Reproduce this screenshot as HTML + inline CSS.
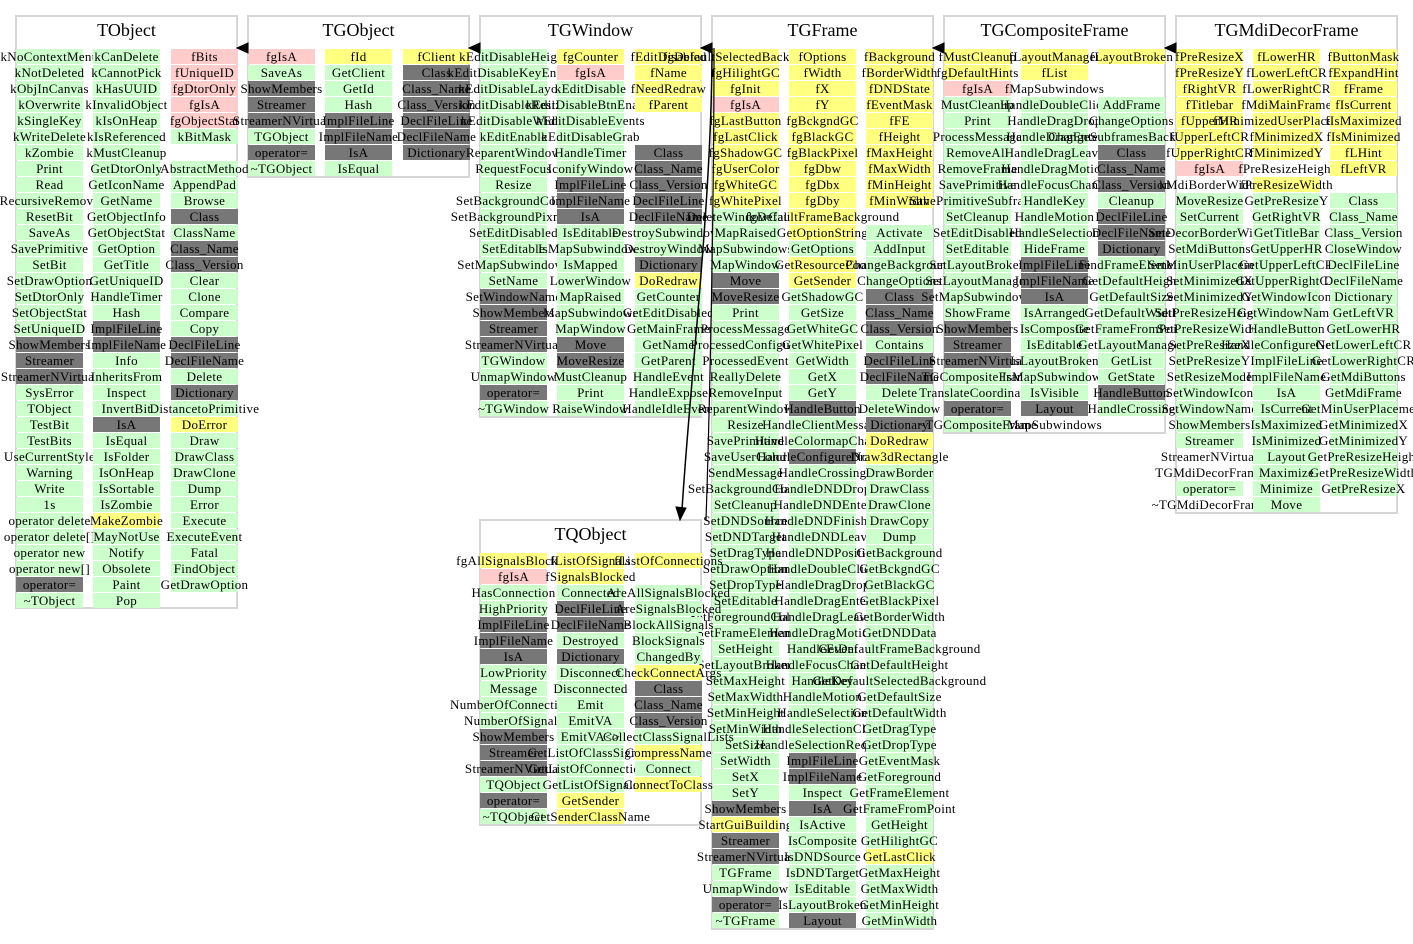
<!DOCTYPE html>
<html><head><meta charset="utf-8"><style>
body{margin:0;width:1413px;height:944px;background:#fff;position:relative;overflow:hidden;font-family:"Liberation Serif",serif;}
.box{position:absolute;border:2px solid #d6d6d6;box-sizing:border-box;width:223px;}
.t{position:absolute;width:223px;text-align:center;font-size:18px;line-height:20px;}
.col{position:absolute;width:67px;}
.col b{display:flex;justify-content:center;height:15px;margin-bottom:1px;font-weight:normal;line-height:15px;white-space:nowrap;font-size:13px;letter-spacing:0.3px;background:#ccffcc;}
.col b.p{background:#ffcccc}.col b.y{background:#ffff80}.col b.d{background:#777}.col b.w{background:transparent}
svg{position:absolute;left:0;top:0}
</style></head><body>
<div class="box" style="left:15px;top:15px;height:594px"></div><div class="t" style="left:15px;top:20px">TObject</div>
<div class="box" style="left:247px;top:15px;height:163px"></div><div class="t" style="left:247px;top:20px">TGObject</div>
<div class="box" style="left:479px;top:15px;height:403px"></div><div class="t" style="left:479px;top:20px">TGWindow</div>
<div class="box" style="left:711px;top:15px;height:915px"></div><div class="t" style="left:711px;top:20px">TGFrame</div>
<div class="box" style="left:943px;top:15px;height:419px"></div><div class="t" style="left:943px;top:20px">TGCompositeFrame</div>
<div class="box" style="left:1175px;top:15px;height:499px"></div><div class="t" style="left:1175px;top:20px">TGMdiDecorFrame</div>
<div class="box" style="left:479px;top:519px;height:307px"></div><div class="t" style="left:479px;top:524px">TQObject</div>

<div class="col" style="left:16px;top:49px"><b>kNoContextMenu</b><b>kNotDeleted</b><b>kObjInCanvas</b><b>kOverwrite</b><b>kSingleKey</b><b>kWriteDelete</b><b>kZombie</b><b>Print</b><b>Read</b><b>RecursiveRemove</b><b>ResetBit</b><b>SaveAs</b><b>SavePrimitive</b><b>SetBit</b><b>SetDrawOption</b><b>SetDtorOnly</b><b>SetObjectStat</b><b>SetUniqueID</b><b class="d">ShowMembers</b><b class="d">Streamer</b><b class="d">StreamerNVirtual</b><b>SysError</b><b>TObject</b><b>TestBit</b><b>TestBits</b><b>UseCurrentStyle</b><b>Warning</b><b>Write</b><b>1s</b><b>operator delete</b><b>operator delete[]</b><b>operator new</b><b>operator new[]</b><b class="d">operator=</b><b>~TObject</b></div>
<div class="col" style="left:93px;top:49px"><b>kCanDelete</b><b>kCannotPick</b><b>kHasUUID</b><b>kInvalidObject</b><b>kIsOnHeap</b><b>kIsReferenced</b><b>kMustCleanup</b><b>GetDtorOnly</b><b>GetIconName</b><b>GetName</b><b>GetObjectInfo</b><b>GetObjectStat</b><b>GetOption</b><b>GetTitle</b><b>GetUniqueID</b><b>HandleTimer</b><b>Hash</b><b class="d">ImplFileLine</b><b class="d">ImplFileName</b><b>Info</b><b>InheritsFrom</b><b>Inspect</b><b>InvertBit</b><b class="d">IsA</b><b>IsEqual</b><b>IsFolder</b><b>IsOnHeap</b><b>IsSortable</b><b>IsZombie</b><b class="y">MakeZombie</b><b>MayNotUse</b><b>Notify</b><b>Obsolete</b><b>Paint</b><b>Pop</b></div>
<div class="col" style="left:171px;top:49px"><b class="p">fBits</b><b class="p">fUniqueID</b><b class="p">fgDtorOnly</b><b class="p">fgIsA</b><b class="p">fgObjectStat</b><b>kBitMask</b><b class="w"></b><b>AbstractMethod</b><b>AppendPad</b><b>Browse</b><b class="d">Class</b><b>ClassName</b><b class="d">Class_Name</b><b class="d">Class_Version</b><b>Clear</b><b>Clone</b><b>Compare</b><b>Copy</b><b class="d">DeclFileLine</b><b class="d">DeclFileName</b><b>Delete</b><b class="d">Dictionary</b><b>DistancetoPrimitive</b><b class="y">DoError</b><b>Draw</b><b>DrawClass</b><b>DrawClone</b><b>Dump</b><b>Error</b><b>Execute</b><b>ExecuteEvent</b><b>Fatal</b><b>FindObject</b><b>GetDrawOption</b></div>

<div class="col" style="left:248px;top:49px"><b class="p">fgIsA</b><b>SaveAs</b><b class="d">ShowMembers</b><b class="d">Streamer</b><b class="d">StreamerNVirtual</b><b>TGObject</b><b class="d">operator=</b><b>~TGObject</b></div>
<div class="col" style="left:325px;top:49px"><b class="y">fId</b><b>GetClient</b><b>GetId</b><b>Hash</b><b class="d">ImplFileLine</b><b class="d">ImplFileName</b><b class="d">IsA</b><b>IsEqual</b></div>
<div class="col" style="left:403px;top:49px"><b class="y">fClient</b><b class="d">Class</b><b class="d">Class_Name</b><b class="d">Class_Version</b><b class="d">DeclFileLine</b><b class="d">DeclFileName</b><b class="d">Dictionary</b></div>

<div class="col" style="left:480px;top:49px"><b>kEditDisableHeight</b><b>kEditDisableKeyEnable</b><b>kEditDisableLayout</b><b>kEditDisableResize</b><b>kEditDisableWidth</b><b>kEditEnable</b><b>ReparentWindow</b><b>RequestFocus</b><b>Resize</b><b>SetBackgroundColor</b><b>SetBackgroundPixmap</b><b>SetEditDisabled</b><b>SetEditable</b><b>SetMapSubwindows</b><b>SetName</b><b class="d">SetWindowName</b><b class="d">ShowMembers</b><b class="d">Streamer</b><b class="d">StreamerNVirtual</b><b>TGWindow</b><b>UnmapWindow</b><b class="d">operator=</b><b>~TGWindow</b></div>
<div class="col" style="left:557px;top:49px"><b class="y">fgCounter</b><b class="p">fgIsA</b><b>kEditDisable</b><b>kEditDisableBtnEnable</b><b>kEditDisableEvents</b><b>kEditDisableGrab</b><b>HandleTimer</b><b>IconifyWindow</b><b class="d">ImplFileLine</b><b class="d">ImplFileName</b><b class="d">IsA</b><b>IsEditable</b><b>IsMapSubwindows</b><b>IsMapped</b><b>LowerWindow</b><b>MapRaised</b><b>MapSubwindows</b><b>MapWindow</b><b class="d">Move</b><b class="d">MoveResize</b><b>MustCleanup</b><b>Print</b><b>RaiseWindow</b></div>
<div class="col" style="left:635px;top:49px"><b class="y">fEditDisabled</b><b class="y">fName</b><b class="y">fNeedRedraw</b><b class="y">fParent</b><b class="w"></b><b class="w"></b><b class="d">Class</b><b class="d">Class_Name</b><b class="d">Class_Version</b><b class="d">DeclFileLine</b><b class="d">DeclFileName</b><b>DestroySubwindows</b><b>DestroyWindow</b><b class="d">Dictionary</b><b class="y">DoRedraw</b><b>GetCounter</b><b>GetEditDisabled</b><b>GetMainFrame</b><b>GetName</b><b>GetParent</b><b>HandleEvent</b><b>HandleExpose</b><b>HandleIdleEvent</b></div>

<div class="col" style="left:712px;top:49px"><b class="y">fgDefaultSelectedBackground</b><b class="y">fgHilightGC</b><b class="y">fgInit</b><b class="p">fgIsA</b><b class="y">fgLastButton</b><b class="y">fgLastClick</b><b class="y">fgShadowGC</b><b class="y">fgUserColor</b><b class="y">fgWhiteGC</b><b class="y">fgWhitePixel</b><b>DeleteWindowCalled</b><b>MapRaised</b><b>MapSubwindows</b><b>MapWindow</b><b class="d">Move</b><b class="d">MoveResize</b><b>Print</b><b>ProcessMessage</b><b>ProcessedConfigure</b><b>ProcessedEvent</b><b>ReallyDelete</b><b>RemoveInput</b><b>ReparentWindow</b><b>Resize</b><b>SavePrimitive</b><b>SaveUserColor</b><b>SendMessage</b><b>SetBackgroundColor</b><b>SetCleanup</b><b>SetDNDSource</b><b>SetDNDTarget</b><b>SetDragType</b><b>SetDrawOption</b><b>SetDropType</b><b>SetEditable</b><b>SetForegroundColor</b><b>SetFrameElement</b><b>SetHeight</b><b>SetLayoutBroken</b><b>SetMaxHeight</b><b>SetMaxWidth</b><b>SetMinHeight</b><b>SetMinWidth</b><b>SetSize</b><b>SetWidth</b><b>SetX</b><b>SetY</b><b class="d">ShowMembers</b><b class="y">StartGuiBuilding</b><b class="d">Streamer</b><b class="d">StreamerNVirtual</b><b>TGFrame</b><b>UnmapWindow</b><b class="d">operator=</b><b>~TGFrame</b></div>
<div class="col" style="left:789px;top:49px"><b class="y">fOptions</b><b class="y">fWidth</b><b class="y">fX</b><b class="y">fY</b><b class="y">fgBckgndGC</b><b class="y">fgBlackGC</b><b class="y">fgBlackPixel</b><b class="y">fgDbw</b><b class="y">fgDbx</b><b class="y">fgDby</b><b class="y">fgDefaultFrameBackground</b><b class="y">GetOptionString</b><b>GetOptions</b><b class="y">GetResourcePool</b><b class="y">GetSender</b><b>GetShadowGC</b><b>GetSize</b><b>GetWhiteGC</b><b>GetWhitePixel</b><b>GetWidth</b><b>GetX</b><b>GetY</b><b class="d">HandleButton</b><b>HandleClientMessage</b><b>HandleColormapChange</b><b class="d">HandleConfigureNotify</b><b>HandleCrossing</b><b>HandleDNDDrop</b><b>HandleDNDEnter</b><b>HandleDNDFinished</b><b>HandleDNDLeave</b><b>HandleDNDPosition</b><b>HandleDoubleClick</b><b>HandleDragDrop</b><b>HandleDragEnter</b><b>HandleDragLeave</b><b>HandleDragMotion</b><b>HandleEvent</b><b>HandleFocusChange</b><b>HandleKey</b><b>HandleMotion</b><b>HandleSelection</b><b>HandleSelectionClear</b><b>HandleSelectionRequest</b><b class="d">ImplFileLine</b><b class="d">ImplFileName</b><b>Inspect</b><b class="d">IsA</b><b>IsActive</b><b>IsComposite</b><b>IsDNDSource</b><b>IsDNDTarget</b><b>IsEditable</b><b>IsLayoutBroken</b><b class="d">Layout</b></div>
<div class="col" style="left:866px;top:49px"><b class="y">fBackground</b><b class="y">fBorderWidth</b><b class="y">fDNDState</b><b class="y">fEventMask</b><b class="y">fFE</b><b class="y">fHeight</b><b class="y">fMaxHeight</b><b class="y">fMaxWidth</b><b class="y">fMinHeight</b><b class="y">fMinWidth</b><b class="w"></b><b>Activate</b><b>AddInput</b><b>ChangeBackground</b><b>ChangeOptions</b><b class="d">Class</b><b class="d">Class_Name</b><b class="d">Class_Version</b><b>Contains</b><b class="d">DeclFileLine</b><b class="d">DeclFileName</b><b>Delete</b><b>DeleteWindow</b><b class="d">Dictionary</b><b class="y">DoRedraw</b><b class="y">Draw3dRectangle</b><b>DrawBorder</b><b>DrawClass</b><b>DrawClone</b><b>DrawCopy</b><b>Dump</b><b>GetBackground</b><b>GetBckgndGC</b><b>GetBlackGC</b><b>GetBlackPixel</b><b>GetBorderWidth</b><b>GetDNDData</b><b>GetDefaultFrameBackground</b><b>GetDefaultHeight</b><b>GetDefaultSelectedBackground</b><b>GetDefaultSize</b><b>GetDefaultWidth</b><b>GetDragType</b><b>GetDropType</b><b>GetEventMask</b><b>GetForeground</b><b>GetFrameElement</b><b>GetFrameFromPoint</b><b>GetHeight</b><b>GetHilightGC</b><b class="y">GetLastClick</b><b>GetMaxHeight</b><b>GetMaxWidth</b><b>GetMinHeight</b><b>GetMinWidth</b></div>

<div class="col" style="left:944px;top:49px"><b class="y">fMustCleanup</b><b class="y">fgDefaultHints</b><b class="p">fgIsA</b><b>MustCleanup</b><b>Print</b><b>ProcessMessage</b><b>RemoveAll</b><b>RemoveFrame</b><b>SavePrimitive</b><b>SavePrimitiveSubframes</b><b>SetCleanup</b><b>SetEditDisabled</b><b>SetEditable</b><b>SetLayoutBroken</b><b>SetLayoutManager</b><b>SetMapSubwindows</b><b>ShowFrame</b><b class="d">ShowMembers</b><b class="d">Streamer</b><b class="d">StreamerNVirtual</b><b>TGCompositeFrame</b><b>TranslateCoordinates</b><b class="d">operator=</b><b>~TGCompositeFrame</b></div>
<div class="col" style="left:1021px;top:49px"><b class="y">fLayoutManager</b><b class="y">fList</b><b class="w">fMapSubwindows</b><b>HandleDoubleClick</b><b>HandleDragDrop</b><b>HandleDragEnter</b><b>HandleDragLeave</b><b>HandleDragMotion</b><b>HandleFocusChange</b><b>HandleKey</b><b>HandleMotion</b><b>HandleSelection</b><b>HideFrame</b><b class="d">ImplFileLine</b><b class="d">ImplFileName</b><b class="d">IsA</b><b>IsArranged</b><b>IsComposite</b><b>IsEditable</b><b>IsLayoutBroken</b><b>IsMapSubwindows</b><b>IsVisible</b><b class="d">Layout</b><b class="w">MapSubwindows</b></div>
<div class="col" style="left:1098px;top:49px"><b class="y">fLayoutBroken</b><b class="w"></b><b class="w"></b><b>AddFrame</b><b>ChangeOptions</b><b>ChangeSubframesBackground</b><b class="d">Class</b><b class="d">Class_Name</b><b class="d">Class_Version</b><b>Cleanup</b><b class="d">DeclFileLine</b><b class="d">DeclFileName</b><b class="d">Dictionary</b><b>FindFrameElement</b><b>GetDefaultHeight</b><b>GetDefaultSize</b><b>GetDefaultWidth</b><b>GetFrameFromPoint</b><b>GetLayoutManager</b><b>GetList</b><b>GetState</b><b class="d">HandleButton</b><b>HandleCrossing</b></div>

<div class="col" style="left:1176px;top:49px"><b class="y">fPreResizeX</b><b class="y">fPreResizeY</b><b class="y">fRightVR</b><b class="y">fTitlebar</b><b class="y">fUpperHR</b><b class="y">fUpperLeftCR</b><b class="y">fUpperRightCR</b><b class="p">fgIsA</b><b class="w">kMdiBorderWidth</b><b>MoveResize</b><b>SetCurrent</b><b>SetDecorBorderWidth</b><b>SetMdiButtons</b><b>SetMinUserPlacement</b><b>SetMinimizedX</b><b>SetMinimizedY</b><b>SetPreResizeHeight</b><b>SetPreResizeWidth</b><b>SetPreResizeX</b><b>SetPreResizeY</b><b>SetResizeMode</b><b>SetWindowIcon</b><b>SetWindowName</b><b>ShowMembers</b><b>Streamer</b><b class="w">StreamerNVirtual</b><b class="w">TGMdiDecorFrame</b><b>operator=</b><b class="w">~TGMdiDecorFrame</b></div>
<div class="col" style="left:1253px;top:49px"><b class="y">fLowerHR</b><b class="y">fLowerLeftCR</b><b class="y">fLowerRightCR</b><b class="y">fMdiMainFrame</b><b class="y">fMinimizedUserPlacement</b><b class="y">fMinimizedX</b><b class="y">fMinimizedY</b><b class="w">fPreResizeHeight</b><b class="y">fPreResizeWidth</b><b>GetPreResizeY</b><b>GetRightVR</b><b>GetTitleBar</b><b>GetUpperHR</b><b>GetUpperLeftCR</b><b>GetUpperRightCR</b><b>GetWindowIcon</b><b>GetWindowName</b><b>HandleButton</b><b>HandleConfigureNotify</b><b>ImplFileLine</b><b>ImplFileName</b><b>IsA</b><b>IsCurrent</b><b>IsMaximized</b><b>IsMinimized</b><b>Layout</b><b>Maximize</b><b>Minimize</b><b>Move</b></div>
<div class="col" style="left:1330px;top:49px"><b class="y">fButtonMask</b><b class="y">fExpandHint</b><b class="y">fFrame</b><b class="y">fIsCurrent</b><b class="y">fIsMaximized</b><b class="y">fIsMinimized</b><b class="y">fLHint</b><b class="y">fLeftVR</b><b class="w"></b><b>Class</b><b>Class_Name</b><b>Class_Version</b><b>CloseWindow</b><b>DeclFileLine</b><b>DeclFileName</b><b>Dictionary</b><b>GetLeftVR</b><b>GetLowerHR</b><b>GetLowerLeftCR</b><b>GetLowerRightCR</b><b>GetMdiButtons</b><b>GetMdiFrame</b><b>GetMinUserPlacement</b><b>GetMinimizedX</b><b>GetMinimizedY</b><b>GetPreResizeHeight</b><b>GetPreResizeWidth</b><b>GetPreResizeX</b></div>

<div class="col" style="left:480px;top:553px"><b class="y">fgAllSignalsBlocked</b><b class="p">fgIsA</b><b>HasConnection</b><b>HighPriority</b><b class="d">ImplFileLine</b><b class="d">ImplFileName</b><b class="d">IsA</b><b>LowPriority</b><b>Message</b><b>NumberOfConnections</b><b>NumberOfSignals</b><b class="d">ShowMembers</b><b class="d">Streamer</b><b class="d">StreamerNVirtual</b><b>TQObject</b><b class="d">operator=</b><b>~TQObject</b></div>
<div class="col" style="left:557px;top:553px"><b class="y">fListOfSignals</b><b class="y">fSignalsBlocked</b><b>Connected</b><b class="d">DeclFileLine</b><b class="d">DeclFileName</b><b>Destroyed</b><b class="d">Dictionary</b><b>Disconnect</b><b>Disconnected</b><b>Emit</b><b>EmitVA</b><b>EmitVA&lt;&gt;</b><b>GetListOfClassSignals</b><b>GetListOfConnections</b><b>GetListOfSignals</b><b class="y">GetSender</b><b class="y">GetSenderClassName</b></div>
<div class="col" style="left:635px;top:553px"><b class="y">fListOfConnections</b><b class="w"></b><b>AreAllSignalsBlocked</b><b>AreSignalsBlocked</b><b>BlockAllSignals</b><b>BlockSignals</b><b>ChangedBy</b><b class="y">CheckConnectArgs</b><b class="d">Class</b><b class="d">Class_Name</b><b class="d">Class_Version</b><b>CollectClassSignalLists</b><b class="y">CompressName</b><b>Connect</b><b class="y">ConnectToClass</b></div>

<svg width="1413" height="944">
<g fill="#000" stroke="#000">
<polygon points="237,48 248,43 248,53"/>
<polygon points="469,48 480,43 480,53"/>
<polygon points="701,48 712,43 712,53"/>
<polygon points="933,48 944,43 944,53"/>
<polygon points="1165,48 1176,43 1176,53"/>
<path d="M712,48 C712,200 690,380 682,510" fill="none" stroke-width="1.5"/>
<path d="M714,48 C714,200 710,400 706,520" fill="none" stroke-width="1.2"/>
<polygon points="680,520 676,507 686,508"/>
</g>
</svg>
</body></html>
